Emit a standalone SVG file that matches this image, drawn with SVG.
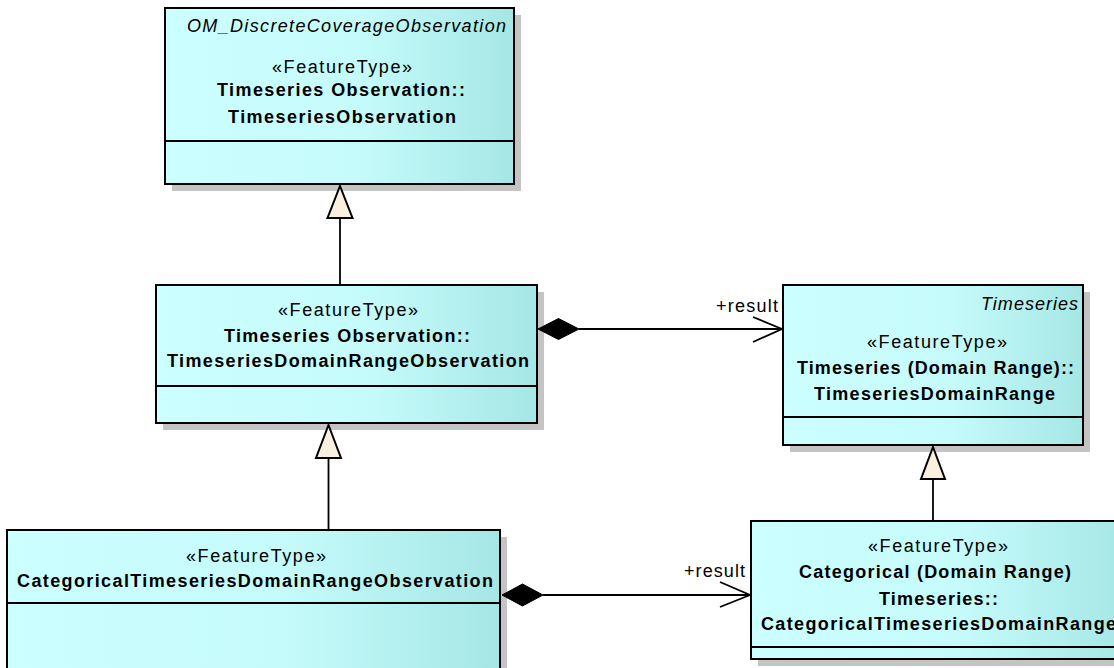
<svg xmlns="http://www.w3.org/2000/svg" width="1114" height="668" viewBox="0 0 1114 668">
<defs>
<linearGradient id="fillg" x1="0" y1="0" x2="1" y2="0">
<stop offset="0" stop-color="#ccffff"/>
<stop offset="0.55" stop-color="#c6fbfb"/>
<stop offset="1" stop-color="#a5e7e5"/>
</linearGradient>
<style>
.box{fill:url(#fillg);stroke:#000;stroke-width:2}
.shadow{fill:#c4c4c4}
.div{stroke:#000;stroke-width:2}
.t{font-family:"Liberation Sans",Arial,sans-serif;font-size:18px;fill:#000;text-anchor:middle}
.b{font-weight:bold}
.i{font-style:italic}
.line{stroke:#000;stroke-width:1.8;fill:none}
.gen{fill:#faf0e0;stroke:#000;stroke-width:2}
.dia{fill:#000;stroke:#000;stroke-width:1}
.lbl{font-family:"Liberation Sans",Arial,sans-serif;font-size:18px;fill:#000;text-anchor:end}
</style>
</defs>
<rect width="1114" height="668" fill="#ffffff"/>

<g id="node-TimeseriesObservation">
<rect class="shadow" x="172" y="15" width="349" height="176"/>
<rect class="box" x="165" y="8" width="349" height="176"/>
<line class="div" x1="165" y1="141" x2="514" y2="141"/>
<text class="t i" x="346.5" y="32" textLength="319" lengthAdjust="spacing">OM_DiscreteCoverageObservation</text>
<text class="t" x="342" y="73" textLength="140" lengthAdjust="spacing">«FeatureType»</text>
<text class="t b" x="341" y="96" textLength="248" lengthAdjust="spacing">Timeseries Observation::</text>
<text class="t b" x="342" y="123" textLength="228" lengthAdjust="spacing">TimeseriesObservation</text>
</g>

<g id="node-TimeseriesDomainRangeObservation">
<rect class="shadow" x="163" y="292" width="381" height="138"/>
<rect class="box" x="156" y="285" width="381" height="138"/>
<line class="div" x1="156" y1="386" x2="537" y2="386"/>
<text class="t" x="348" y="316" textLength="140" lengthAdjust="spacing">«FeatureType»</text>
<text class="t b" x="347" y="342" textLength="246" lengthAdjust="spacing">Timeseries Observation::</text>
<text class="t b" x="348" y="367" textLength="362" lengthAdjust="spacing">TimeseriesDomainRangeObservation</text>
</g>

<g id="node-TimeseriesDomainRange">
<rect class="shadow" x="790" y="292" width="300" height="160"/>
<rect class="box" x="783" y="285" width="300" height="160"/>
<line class="div" x1="783" y1="417" x2="1083" y2="417"/>
<text class="t i" x="1029.5" y="310" textLength="97" lengthAdjust="spacing">Timeseries</text>
<text class="t" x="937" y="348" textLength="140" lengthAdjust="spacing">«FeatureType»</text>
<text class="t b" x="935.5" y="374" textLength="277" lengthAdjust="spacing">Timeseries (Domain Range)::</text>
<text class="t b" x="934.5" y="400" textLength="241" lengthAdjust="spacing">TimeseriesDomainRange</text>
</g>

<g id="node-CategoricalTimeseriesDomainRange">
<rect class="shadow" x="758" y="528" width="375" height="138"/>
<rect class="box" x="751" y="521" width="375" height="138"/>
<line class="div" x1="751" y1="647" x2="1126" y2="647"/>
<text class="t" x="938" y="552" textLength="140" lengthAdjust="spacing">«FeatureType»</text>
<text class="t b" x="935" y="578" textLength="272" lengthAdjust="spacing">Categorical (Domain Range)</text>
<text class="t b" x="938.5" y="605" textLength="119" lengthAdjust="spacing">Timeseries::</text>
<text class="t b" x="938.5" y="630" textLength="355" lengthAdjust="spacing">CategoricalTimeseriesDomainRange</text>
</g>

<g id="node-CategoricalTimeseriesDomainRangeObservation">
<rect class="shadow" x="14" y="537" width="493" height="140"/>
<rect class="box" x="7" y="530" width="493" height="140"/>
<line class="div" x1="7" y1="603" x2="500" y2="603"/>
<text class="t" x="256" y="562" textLength="140" lengthAdjust="spacing">«FeatureType»</text>
<text class="t b" x="255" y="587" textLength="476" lengthAdjust="spacing">CategoricalTimeseriesDomainRangeObservation</text>
</g>

<g id="connectors">
<line class="line" x1="340" y1="218" x2="340" y2="285"/>
<polygon class="gen" points="340,186 352.5,218 327.5,218"/>
<line class="line" x1="328.5" y1="458" x2="328.5" y2="530"/>
<polygon class="gen" points="328.5,425 341,458 316,458"/>
<line class="line" x1="933" y1="479" x2="933" y2="521"/>
<polygon class="gen" points="933,447 945,479 921,479"/>
<line class="line" x1="579" y1="329" x2="782" y2="329"/>
<polygon class="dia" points="538,329 558.5,318.5 579,329 558.5,339.5"/>
<polyline class="line" points="753,317 782,329 753,342"/>
<text class="lbl" x="778" y="312" textLength="62" lengthAdjust="spacing">+result</text>
<line class="line" x1="543" y1="595" x2="750" y2="595"/>
<polygon class="dia" points="502,595 522.5,584 543,595 522.5,606"/>
<polyline class="line" points="720,582 750,595 720,607"/>
<text class="lbl" x="745" y="577" textLength="61" lengthAdjust="spacing">+result</text>
</g>
</svg>
